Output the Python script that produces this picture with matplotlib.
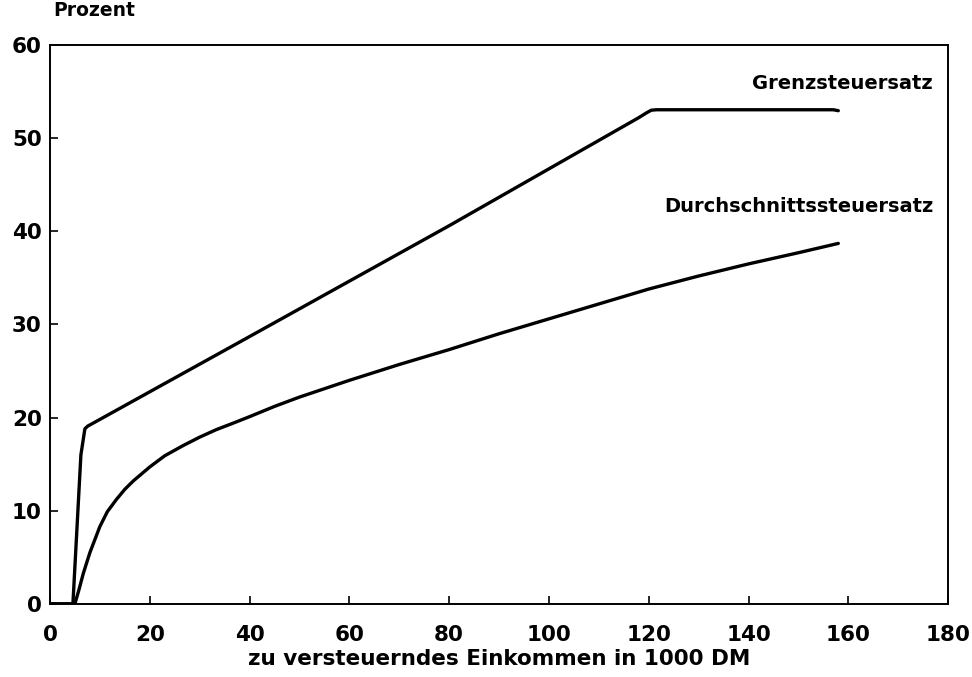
import numpy as np
import matplotlib.pyplot as plt

plt.rcParams['font.family'] = ['DejaVu Sans']
plt.rcParams['font.weight'] = 'bold'

# Daten
grenz_x = [0, 4.6, 6.2, 7.0, 7.6, 8.3, 40, 80, 118, 119.5, 120.5, 121.5, 157, 158]
grenz_y = [0, 0, 16.0, 18.8, 19.1, 19.3, 28.7, 40.6, 52.2, 52.7, 53.0, 53.05, 53.05, 52.95]

durch_x = [0, 5.0, 5.8, 6.7, 8, 10, 11.5, 13.3, 15, 16.7, 20, 23, 26.7, 30, 33.3, 36.7, 40, 45, 50,
           60, 70, 80, 90, 100, 110, 120, 130, 140, 150, 158]
durch_y = [0, 0, 1.5, 3.3, 5.5, 8.3, 9.9, 11.2, 12.3, 13.2, 14.7, 15.9, 17.0, 17.9, 18.7, 19.4, 20.1,
           21.2, 22.2, 24.0, 25.7, 27.3, 29.0, 30.6, 32.2, 33.8, 35.2, 36.5, 37.7, 38.7]

x_ticks = [0, 20, 40, 60, 80, 100, 120, 140, 160, 180]
y_ticks = [0, 10, 20, 30, 40, 50, 60]

fig = plt.figure(figsize=(9.72, 6.77), dpi=100)
ax = fig.add_axes([0.0514, 0.108, 0.924, 0.8255])

ax.plot(grenz_x, grenz_y, color='black', lw=2.4, solid_joinstyle='round', solid_capstyle='round')
ax.plot(durch_x, durch_y, color='black', lw=2.4, solid_joinstyle='round', solid_capstyle='round')

ax.set_xlim(0, 180)
ax.set_ylim(0, 60)
ax.set_xticks(x_ticks)
ax.set_yticks(y_ticks)
ax.tick_params(direction='in', length=6, width=1.2, labelsize=15.5)
ax.tick_params(axis='x', pad=15)
ax.tick_params(axis='y', pad=6)
for lab in ax.get_xticklabels() + ax.get_yticklabels():
    lab.set_fontweight('bold')
for s in ax.spines.values():
    s.set_linewidth(1.4)

ax.set_xlabel("zu versteuerndes Einkommen in 1000 DM", fontsize=15.5, fontweight='bold', labelpad=3)
ax.text(0.004, 1.045, "Prozent", transform=ax.transAxes, fontsize=13.5, fontweight='bold',
        ha='left', va='bottom')

ax.text(177.0, 55.9, "Grenzsteuersatz", fontsize=14, fontweight='bold', ha='right', va='center')
ax.text(177.0, 42.7, "Durchschnittssteuersatz", fontsize=14, fontweight='bold', ha='right', va='center')

fig.savefig("out.png", dpi=100)
